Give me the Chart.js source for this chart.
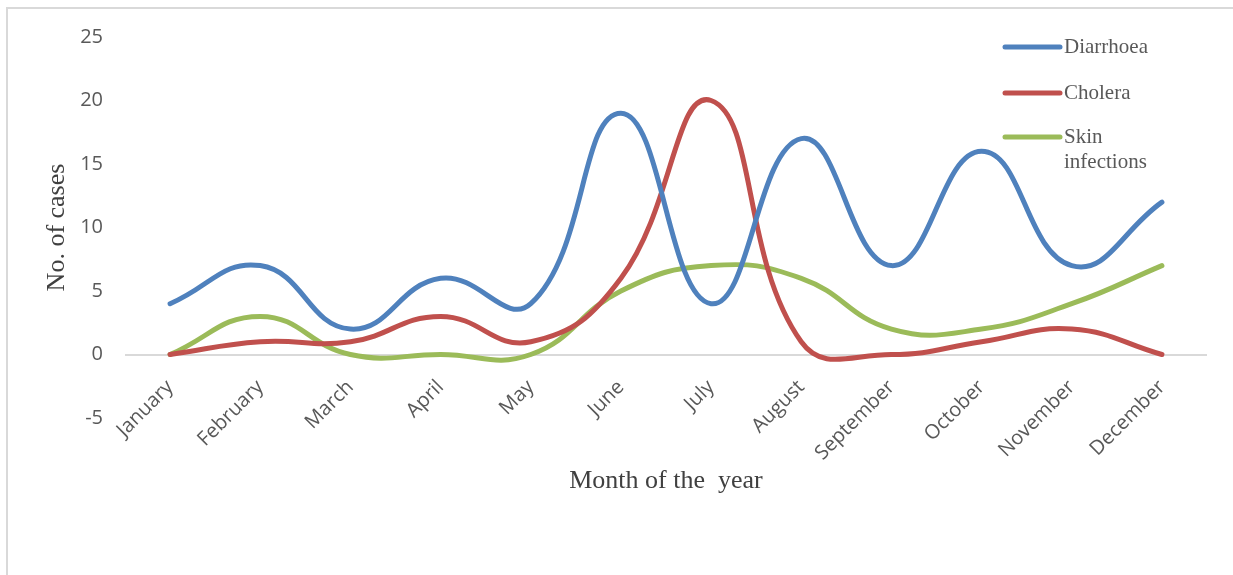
<!DOCTYPE html>
<html>
<head>
<meta charset="utf-8">
<script src="https://cdn.jsdelivr.net/npm/chart.js@4/dist/chart.umd.min.js"></script>
<style>
  html, body { margin: 0; padding: 0; background: #fff; }
  #wrap { position: relative; width: 1233px; height: 575px; }
</style>
</head>
<body>
<div id="wrap"><canvas id="casesChart" width="1233" height="575"></canvas></div>
<script>
// Monthly cases by disease
const months = ['January', 'February', 'March', 'April', 'May', 'June',
  'July', 'August', 'September', 'October', 'November', 'December'];
const diarrhoea = [4, 7, 2, 6, 4, 19, 4, 17, 7, 16, 7, 12];
const cholera = [0, 1, 1, 3, 1, 6, 20, 1, 0, 1, 2, 0];
const skinInfections = [0, 3, 0, 0, 0, 5, 7, 6, 2, 2, 4, 7];
const yTicks = [-5, 0, 5, 10, 15, 20, 25];

const colors = {
  diarrhoea: '#4F81BD',
  cholera: '#C0504D',
  skin: '#9BBB59'
};

const serif = '"Liberation Serif", "Times New Roman", serif';
const sans = '"Open Sans", sans-serif';

// frame around the figure + legend placed inside the plot, like the Excel original
const framePlugin = {
  id: 'frame',
  beforeDraw(chart) {
    const ctx = chart.ctx;
    ctx.save();
    ctx.strokeStyle = '#d9d9d9';
    ctx.lineWidth = 2;
    ctx.strokeRect(7, 8, 1400, 800);
    ctx.restore();
  },
  afterDraw(chart) {
    const ctx = chart.ctx;
    const x0 = 1005, x1 = 1060;
    const rows = [
      { y: 47, lines: ['Diarrhoea'] },
      { y: 93, lines: ['Cholera'] },
      { y: 137, lines: ['Skin', 'infections'] }
    ];
    ctx.save();
    ctx.font = '21px ' + serif;
    ctx.textBaseline = 'middle';
    ctx.fillStyle = '#595959';
    chart.data.datasets.forEach((ds, i) => {
      const r = rows[i];
      ctx.strokeStyle = ds.borderColor;
      ctx.lineWidth = 5;
      ctx.lineCap = 'round';
      ctx.beginPath();
      ctx.moveTo(x0, r.y);
      ctx.lineTo(x1, r.y);
      ctx.stroke();
      r.lines.forEach((t, j) => ctx.fillText(t, 1064, r.y + j * 25));
    });
    ctx.restore();
  }
};

const seriesStyle = {
  borderWidth: 5,
  pointRadius: 0,
  fill: false,
  tension: 0.45,
  borderCapStyle: 'round',
  borderJoinStyle: 'round'
};

new Chart(document.getElementById('casesChart'), {
  type: 'line',
  data: {
    labels: months,
    datasets: [
      Object.assign({ label: 'Diarrhoea', data: diarrhoea, borderColor: colors.diarrhoea, backgroundColor: colors.diarrhoea }, seriesStyle),
      Object.assign({ label: 'Cholera', data: cholera, borderColor: colors.cholera, backgroundColor: colors.cholera }, seriesStyle),
      Object.assign({ label: 'Skin infections', data: skinInfections, borderColor: colors.skin, backgroundColor: colors.skin }, seriesStyle)
    ]
  },
  options: {
    responsive: false,
    animation: false,
    layout: {
      padding: { left: 0, right: 26, top: 37, bottom: 157 }
    },
    scales: {
      x: {
        // labels sit on the zero line, as in Excel
        position: { y: 0 },
        offset: true,
        grid: { display: false, drawTicks: false },
        border: { display: false },
        afterFit(axis) {
          axis.paddingLeft = 0;
          axis.paddingRight = 0;
          axis.height = 146; // puts the title at the right height below the zero line
        },
        ticks: {
          color: '#595959',
          font: { family: sans, size: 20 },
          minRotation: 45,
          maxRotation: 45,
          padding: 21
        },
        title: {
          display: true,
          text: 'Month of the  year',
          color: '#404040',
          font: { family: serif, size: 26 },
          padding: { top: 4, bottom: 4 }
        }
      },
      y: {
        min: -5,
        max: 25,
        afterBuildTicks(axis) {
          axis.ticks = yTicks.map(v => ({ value: v }));
        },
        afterFit(axis) {
          axis.width = 125;
        },
        grid: {
          drawTicks: false,
          lineWidth: 2,
          color: ctx => (ctx.tick && ctx.tick.value === 0 ? '#d9d9d9' : 'rgba(0,0,0,0)')
        },
        border: { display: false },
        ticks: {
          color: '#595959',
          font: { family: sans, size: 20 },
          padding: 22
        },
        title: {
          display: true,
          text: 'No. of cases',
          color: '#404040',
          font: { family: serif, size: 26 },
          padding: { top: 42, bottom: 4 }
        }
      }
    },
    plugins: {
      legend: { display: false },
      tooltip: { enabled: false }
    }
  },
  plugins: [framePlugin]
});
</script>
</body>
</html>
